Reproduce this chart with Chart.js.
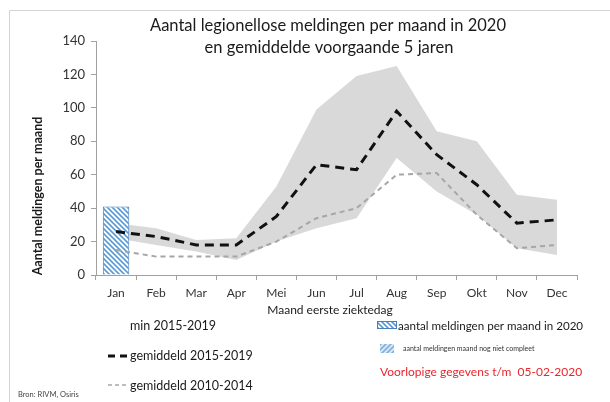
<!DOCTYPE html>
<html><head><meta charset="utf-8">
<script src="https://cdn.jsdelivr.net/npm/chart.js@4"></script>
<style>html,body{margin:0;padding:0;background:#fff;}#wrap{width:610px;height:402px;position:relative;}</style>
</head><body><div id="wrap"><canvas id="c" width="610" height="402"></canvas></div>
<script>
const months = ['Jan','Feb','Mar','Apr','Mei','Jun','Jul','Aug','Sep','Okt','Nov','Dec'];
const meldingen2020 = [41, null, null, null, null, null, null, null, null, null, null, null];
const gem2015_2019 = [26, 23, 18, 18, 35, 66, 63, 98, 72, 54, 31, 33];
const gem2010_2014 = [15, 11, 11, 11, 20, 34, 40, 60, 61, 36, 16, 18];
const max2015_2019 = [31, 28, 21, 22, 53, 99, 119, 125, 86, 80, 48, 45];
const min2015_2019 = [22, 18, 14, 9, 20, 28, 34, 70, 50, 36, 16, 12];
const yTicks = [0, 20, 40, 60, 80, 100, 120, 140];

const FONT = 'Lato, "Open Sans", sans-serif';

function hatch(bg, fg, dir) {
  const c = document.createElement('canvas');
  c.width = 5; c.height = 5;
  const x = c.getContext('2d');
  x.fillStyle = bg; x.fillRect(0,0,5,5);
  x.strokeStyle = fg; x.lineWidth = 1.6;
  x.beginPath();
  if (dir > 0) {
    x.moveTo(-1,-1); x.lineTo(6,6);
    x.moveTo(-1,4); x.lineTo(1,6);
    x.moveTo(4,-1); x.lineTo(6,1);
  } else {
    x.moveTo(6,-1); x.lineTo(-1,6);
    x.moveTo(1,-1); x.lineTo(-1,1);
    x.moveTo(6,4); x.lineTo(4,6);
  }
  x.stroke();
  return document.getElementById('c').getContext('2d').createPattern(c, 'repeat');
}
const barPattern = hatch('#ffffff', '#5b9bd5', 1);
const barPattern2 = hatch('#dbe8f6', '#7fb0e0', -1);

const extras = {
  id: 'extras',
  afterDraw(chart) {
    const ctx = chart.ctx;
    ctx.save();
    // frame
    ctx.strokeStyle = '#d4d4d4'; ctx.lineWidth = 1;
    ctx.beginPath(); ctx.moveTo(9.5, 402); ctx.lineTo(9.5, 10.5); ctx.lineTo(610, 10.5); ctx.stroke();
    // title
    ctx.fillStyle = '#1a1a1a'; ctx.textAlign = 'center'; ctx.textBaseline = 'middle';
    ctx.font = '16.5px ' + FONT;
    ctx.fillText('Aantal legionellose meldingen per maand in 2020', 328, 26);
    ctx.fillText('en gemiddelde voorgaande 5 jaren', 329, 48);
    // y title
    ctx.save();
    ctx.translate(38, 196); ctx.rotate(-Math.PI/2);
    ctx.font = 'bold 12.5px ' + FONT; ctx.fillStyle = '#1a1a1a';
    ctx.fillText('Aantal meldingen per maand', 0, 0);
    ctx.restore();
    // x title
    ctx.font = '12px ' + FONT; ctx.fillStyle = '#1a1a1a';
    ctx.fillText('Maand eerste ziektedag', 330, 310);
    // legend left
    ctx.textAlign = 'left';
    ctx.font = '12.5px ' + FONT;
    ctx.fillText('min 2015-2019', 130, 326);
    ctx.fillText('gemiddeld 2015-2019', 130, 356);
    ctx.fillText('gemiddeld 2010-2014', 130, 386);
    ctx.strokeStyle = '#111'; ctx.lineWidth = 3; ctx.setLineDash([7,5]);
    ctx.beginPath(); ctx.moveTo(108, 356); ctx.lineTo(129, 356); ctx.stroke();
    ctx.strokeStyle = '#a6a6a6'; ctx.lineWidth = 1.5; ctx.setLineDash([4,3]);
    ctx.beginPath(); ctx.moveTo(108, 385); ctx.lineTo(129, 385); ctx.stroke();
    ctx.setLineDash([]);
    // legend right
    ctx.fillStyle = barPattern; ctx.fillRect(377, 321, 20, 8);
    ctx.strokeStyle = '#4a7ebb'; ctx.lineWidth = 1; ctx.strokeRect(377.5, 321.5, 19, 7);
    ctx.fillStyle = '#1a1a1a'; ctx.font = '11.6px ' + FONT;
    ctx.fillText('aantal meldingen per maand in 2020', 398, 326);
    ctx.fillStyle = barPattern2; ctx.fillRect(380, 344, 14, 9);
    ctx.fillStyle = '#333'; ctx.font = '7px ' + FONT;
    ctx.fillText('aantal meldingen maand nog niet compleet', 403, 349);
    ctx.fillStyle = '#e8262b'; ctx.font = '12px ' + FONT;
    ctx.fillText('Voorlopige gegevens t/m  05-02-2020', 380, 372);
    ctx.fillStyle = '#444'; ctx.font = '7.5px ' + FONT;
    ctx.fillText('Bron: RIVM, Osiris', 18, 395);
    ctx.restore();
  }
};

new Chart(document.getElementById('c'), {
  type: 'bar',
  data: {
    labels: months,
    datasets: [
      { type: 'line', label: 'max 2015-2019', data: max2015_2019, fill: '+1', backgroundColor: '#d9d9d9', borderWidth: 0, pointRadius: 0, order: 5, tension: 0 },
      { type: 'line', label: 'min 2015-2019', data: min2015_2019, fill: false, borderWidth: 0, borderColor: 'rgba(0,0,0,0)', pointRadius: 0, order: 4, tension: 0 },
      { type: 'bar', label: 'aantal meldingen per maand in 2020', data: meldingen2020, backgroundColor: barPattern, borderColor: '#4a7ebb', borderWidth: 1, categoryPercentage: 1, barPercentage: 0.66, order: 3 },
      { type: 'line', label: 'gemiddeld 2010-2014', data: gem2010_2014, borderColor: '#a6a6a6', borderWidth: 2, borderDash: [5,4], pointRadius: 0, fill: false, order: 2, tension: 0 },
      { type: 'line', label: 'gemiddeld 2015-2019', data: gem2015_2019, borderColor: '#111', borderWidth: 3, borderDash: [9,6], pointRadius: 0, fill: false, order: 1, tension: 0 }
    ]
  },
  options: {
    responsive: false,
    animation: false,
    layout: { padding: { left: 0, top: 41, right: 33, bottom: 0 } },
    plugins: { legend: { display: false }, tooltip: { enabled: false }, title: { display: false } },
    scales: {
      x: {
        offset: true,
        grid: { display: true, drawOnChartArea: false, tickLength: 5, color: '#a0a0a0', offset: true },
        border: { color: '#a0a0a0' },
        ticks: { font: { family: FONT, size: 12 }, color: '#333', padding: 6 },
        afterFit(s) { s.height = 127; }
      },
      y: {
        min: 0, max: 140,
        afterBuildTicks(s) { s.ticks = yTicks.map(v => ({ value: v })); },
        grid: { display: true, drawOnChartArea: false, tickLength: 5, color: '#a0a0a0' },
        border: { color: '#a0a0a0' },
        ticks: { font: { family: FONT, size: 13 }, color: '#333', padding: 6 },
        afterFit(s) { s.width = 96; }
      }
    }
  },
  plugins: [extras]
});
</script></body></html>
